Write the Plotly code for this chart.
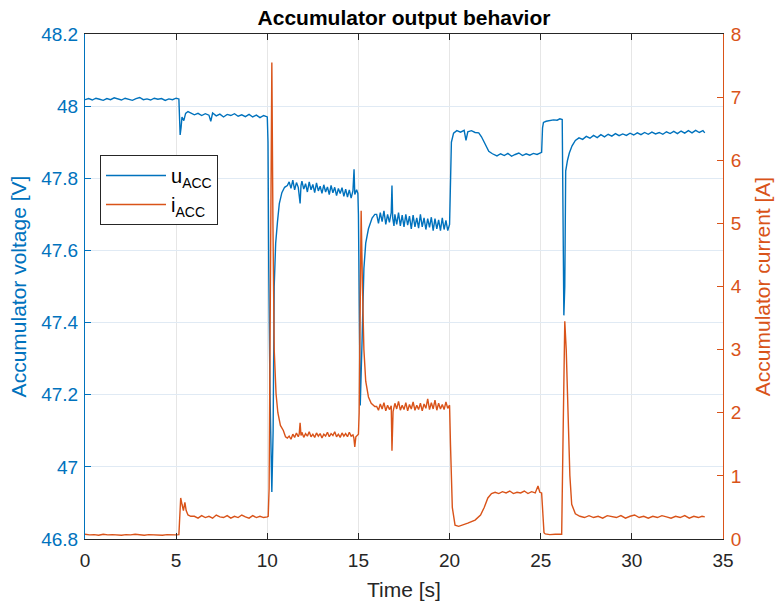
import plotly.graph_objects as go

# ---- data ----
t_u = [0, 0.2, 0.4, 0.6, 0.8, 1.0, 1.2, 1.4, 1.6, 1.8, 2.0, 2.2, 2.4, 2.6, 2.8, 3.0, 3.2, 3.4, 3.6, 3.8, 4.0,
       4.2, 4.4, 4.6, 4.8, 5.0, 5.15,
       5.18, 5.22, 5.27, 5.32, 5.42, 5.52, 5.65,
       5.8, 6.0, 6.2, 6.4, 6.6, 6.8, 6.9, 7.0, 7.2, 7.4, 7.6, 7.8, 8.0, 8.2, 8.4, 8.6, 8.8, 9.0, 9.2, 9.4, 9.6,
       9.8, 10.0,
       10.04, 10.08, 10.15, 10.25, 10.32, 10.38, 10.46, 10.56, 10.66, 10.8, 10.95,
       11.1, 11.2, 11.3, 11.4, 11.5, 11.6, 11.7, 11.8, 11.85, 11.9, 12.0, 12.1, 12.2, 12.3, 12.4, 12.5, 12.6, 12.7,
       12.8, 12.9, 13.0, 13.1, 13.2, 13.3, 13.4, 13.5, 13.6, 13.7, 13.8, 13.9, 14.0, 14.1, 14.2, 14.3, 14.4, 14.5,
       14.6, 14.7, 14.76, 14.8, 14.9, 14.97,
       15.0, 15.05, 15.1, 15.2, 15.3, 15.4, 15.55, 15.75, 15.9,
       16.0, 16.1, 16.2, 16.3, 16.4, 16.5, 16.6, 16.7, 16.8, 16.84, 16.88, 16.95, 17.0, 17.1, 17.2, 17.3, 17.4,
       17.5, 17.6, 17.7, 17.8, 17.9, 18.0, 18.1, 18.2, 18.3, 18.4, 18.5, 18.6, 18.7, 18.8, 18.9, 19.0, 19.1, 19.2,
       19.3, 19.4, 19.5, 19.6, 19.7, 19.8, 19.9, 20.0,
       20.04, 20.1, 20.22, 20.4,
       20.6, 20.8, 20.9, 21.0, 21.2, 21.4, 21.6, 21.75, 21.95, 22.15, 22.35, 22.6, 22.8, 23.0, 23.2, 23.4, 23.6,
       23.8, 24.0, 24.2, 24.4, 24.6, 24.8, 25.05,
       25.1, 25.15, 25.3, 25.5, 25.7, 25.9, 26.05, 26.18, 26.22, 26.27, 26.32, 26.37, 26.47, 26.57, 26.72, 26.9,
       27.1, 27.3, 27.5, 27.7, 27.9, 28.1, 28.3, 28.5, 28.7, 28.9, 29.1, 29.3, 29.5, 29.7, 29.9, 30.1, 30.3, 30.5,
       30.7, 30.9, 31.1, 31.3, 31.5, 31.7, 31.9, 32.1, 32.3, 32.5, 32.7, 32.9, 33.1, 33.3, 33.5, 33.7, 33.9,
       34.0]
u_acc = [48.018, 48.021, 48.017, 48.022, 48.019, 48.016, 48.021, 48.018, 48.023, 48.019, 48.017, 48.022, 48.020,
         48.016, 48.021, 48.024, 48.018, 48.020, 48.017, 48.022, 48.019, 48.021, 48.016, 48.020, 48.018, 48.022,
         48.020,
         47.96, 47.92, 47.94, 47.97, 47.96, 47.98, 47.985,
         47.982, 47.976, 47.980, 47.974, 47.979, 47.975, 47.958, 47.981, 47.973, 47.978, 47.970, 47.977, 47.974,
         47.979, 47.972, 47.976, 47.971, 47.977, 47.970, 47.975, 47.968, 47.974, 47.970,
         47.90, 47.55, 47.20, 46.93, 47.10, 47.50, 47.62, 47.68, 47.73, 47.76, 47.775,
         47.78, 47.79, 47.772, 47.795, 47.768, 47.788, 47.775, 47.73, 47.78, 47.792, 47.77, 47.785, 47.762, 47.79,
         47.768, 47.783, 47.76, 47.787, 47.765, 47.778, 47.758, 47.782, 47.762, 47.776, 47.755, 47.78, 47.76,
         47.775, 47.752, 47.772, 47.758, 47.774, 47.75, 47.77, 47.748, 47.768, 47.745, 47.766, 47.825, 47.755,
         47.768, 47.758,
         47.70, 47.45, 47.17, 47.35, 47.55, 47.62, 47.66, 47.69, 47.70,
         47.70, 47.675, 47.705, 47.68, 47.71, 47.672, 47.70, 47.678, 47.705, 47.78, 47.69, 47.668, 47.70, 47.672,
         47.705, 47.668, 47.698, 47.665, 47.70, 47.67, 47.695, 47.66, 47.698, 47.665, 47.69, 47.662, 47.70,
         47.665, 47.69, 47.658, 47.688, 47.664, 47.692, 47.655, 47.688, 47.66, 47.685, 47.655, 47.69, 47.658,
         47.683, 47.655, 47.672,
         47.75, 47.90, 47.925, 47.932,
         47.928, 47.933, 47.905, 47.929, 47.932, 47.927, 47.926, 47.915, 47.895, 47.875, 47.868, 47.862, 47.868,
         47.863, 47.869, 47.861, 47.866, 47.870, 47.863, 47.868, 47.864, 47.869, 47.866, 47.872,
         47.94, 47.955, 47.958, 47.96, 47.962, 47.961, 47.965, 47.963, 47.60, 47.42, 47.50, 47.82, 47.85, 47.87,
         47.89, 47.905,
         47.912, 47.908, 47.916, 47.911, 47.919, 47.913, 47.921, 47.915, 47.922, 47.917, 47.924, 47.918, 47.923,
         47.919, 47.925, 47.920, 47.926, 47.921, 47.927, 47.922, 47.928, 47.923, 47.927, 47.922, 47.929, 47.924,
         47.930, 47.924, 47.931, 47.925, 47.932, 47.926, 47.933, 47.927, 47.932,
         47.926]

t_i = [0, 0.25, 0.5, 0.75, 1.0, 1.25, 1.5, 1.75, 2.0, 2.25, 2.5, 2.75, 3.0, 3.25, 3.5, 3.75, 4.0, 4.25, 4.5, 4.75,
       5.0, 5.15,
       5.2, 5.25, 5.32, 5.4, 5.48, 5.55, 5.65, 5.8,
       6.0, 6.2, 6.4, 6.6, 6.8, 7.0, 7.2, 7.4, 7.6, 7.8, 8.0, 8.2, 8.4, 8.6, 8.8, 9.0, 9.2, 9.4, 9.6, 9.8, 10.0, 10.05,
       10.1, 10.17, 10.25, 10.31, 10.38, 10.48, 10.58, 10.72, 10.88, 11.0,
       11.1, 11.2, 11.3, 11.4, 11.5, 11.6, 11.7, 11.75, 11.8, 11.85, 11.9, 12.0, 12.1, 12.2, 12.3, 12.4, 12.5, 12.6,
       12.7, 12.8, 12.9, 13.0, 13.1, 13.2, 13.3, 13.4, 13.5, 13.6, 13.7, 13.8, 13.9, 14.0, 14.1, 14.2, 14.3, 14.4,
       14.5, 14.6, 14.7, 14.75, 14.8, 14.86, 14.92, 15.0,
       15.04, 15.1, 15.15, 15.22, 15.3, 15.4, 15.55, 15.7, 15.9,
       16.0, 16.1, 16.2, 16.3, 16.4, 16.5, 16.6, 16.7, 16.8, 16.84, 16.9, 17.0, 17.1, 17.2, 17.3, 17.4, 17.5, 17.6,
       17.7, 17.8, 17.9, 18.0, 18.1, 18.2, 18.3, 18.4, 18.5, 18.6, 18.7, 18.8, 18.9, 19.0, 19.1, 19.2, 19.3, 19.4,
       19.5, 19.6, 19.7, 19.8, 19.9, 20.0,
       20.05, 20.15, 20.3, 20.5, 21.0, 21.4, 21.7, 21.9, 22.1, 22.3,
       22.5, 22.7, 22.9, 23.1, 23.3, 23.5, 23.7, 23.9, 24.1, 24.3, 24.5, 24.7, 24.85, 24.95, 25.05,
       25.1, 25.18, 25.25, 25.5, 25.8, 26.0, 26.15,
       26.22, 26.32, 26.4, 26.5, 26.6, 26.7, 26.9,
       27.15, 27.4, 27.65, 27.9, 28.15, 28.4, 28.65, 28.9, 29.15, 29.4, 29.65, 29.9, 30.15, 30.4, 30.65, 30.9,
       31.15, 31.4, 31.65, 31.9, 32.15, 32.4, 32.65, 32.9, 33.15, 33.4, 33.65, 33.85, 34.0]
i_acc = [0.075, 0.065, 0.07, 0.06, 0.075, 0.065, 0.07, 0.065, 0.06, 0.07, 0.065, 0.075, 0.065, 0.06, 0.07, 0.065,
         0.055, 0.06, 0.07, 0.065, 0.065, 0.07,
         0.30, 0.65, 0.55, 0.45, 0.58, 0.45, 0.38, 0.36,
         0.36, 0.33, 0.37, 0.34, 0.36, 0.33, 0.38, 0.35, 0.34, 0.37, 0.33, 0.36, 0.34, 0.38, 0.35, 0.33, 0.37, 0.34,
         0.36, 0.34, 0.35, 0.36,
         0.8, 4.0, 7.55, 5.0, 3.0, 2.3, 2.0, 1.8, 1.72, 1.62,
         1.60, 1.63, 1.58, 1.66, 1.61, 1.68, 1.62, 1.66, 1.84, 1.64, 1.69, 1.61, 1.67, 1.63, 1.70, 1.62, 1.66, 1.61,
         1.68, 1.63, 1.67, 1.60, 1.66, 1.63, 1.69, 1.62, 1.67, 1.64, 1.70, 1.62, 1.66, 1.61, 1.68, 1.63, 1.67, 1.62,
         1.69, 1.63, 1.65, 1.60, 1.46, 1.62, 1.64, 1.66,
         2.0, 4.5, 5.2, 4.0, 3.0, 2.5, 2.25, 2.15, 2.1,
         2.10, 2.04, 2.14, 2.06, 2.16, 2.03, 2.12, 2.05, 2.11, 1.40, 2.02, 2.15, 2.06, 2.18, 2.04, 2.12, 2.05, 2.16,
         2.03, 2.13, 2.06, 2.17, 2.04, 2.12, 2.05, 2.15, 2.03, 2.14, 2.07, 2.22, 2.05, 2.16, 2.06, 2.20, 2.04, 2.15,
         2.06, 2.13, 2.05, 2.17, 2.07, 2.12,
         1.5, 0.5, 0.22, 0.2, 0.25, 0.3, 0.38, 0.5, 0.65, 0.72,
         0.74, 0.72, 0.75, 0.73, 0.76, 0.72, 0.74, 0.73, 0.76, 0.72, 0.75, 0.73, 0.84, 0.74, 0.73,
         0.4, 0.1, 0.08, 0.07, 0.075, 0.07, 0.075,
         1.5, 3.45, 3.0, 2.0, 1.0, 0.55, 0.40,
         0.36, 0.34, 0.37, 0.34, 0.36, 0.33, 0.37, 0.35, 0.34, 0.37, 0.33, 0.36, 0.38, 0.34, 0.36, 0.33, 0.36, 0.34,
         0.37, 0.35, 0.33, 0.36, 0.34, 0.37, 0.33, 0.36, 0.34, 0.36, 0.35]

x_ticks = [0, 5, 10, 15, 20, 25, 30, 35]
u_ticks = [46.8, 47.0, 47.2, 47.4, 47.6, 47.8, 48.0, 48.2]
u_tick_labels = ["46.8", "47", "47.2", "47.4", "47.6", "47.8", "48", "48.2"]
i_ticks = [0, 1, 2, 3, 4, 5, 6, 7, 8]

BLUE = "#0072BD"
ORANGE = "#D95319"
DARK = "#262626"
FONT = "Liberation Sans, Arial, sans-serif"

L, R, T, B = 85, 53, 34, 66
W, H = 776, 605
PW, PH = W - L - R, H - T - B

fig = go.Figure()
fig.add_trace(go.Scatter(x=t_u, y=u_acc, mode="lines", name="u<sub>ACC</sub>",
                         line=dict(color=BLUE, width=1.4), yaxis="y"))
fig.add_trace(go.Scatter(x=t_i, y=i_acc, mode="lines", name="i<sub>ACC</sub>",
                         line=dict(color=ORANGE, width=1.4), yaxis="y2"))

fig.update_layout(
    width=W, height=H,
    margin=dict(l=L, r=R, t=T, b=B, autoexpand=False),
    paper_bgcolor="white", plot_bgcolor="white",
    font=dict(family=FONT, size=19, color=DARK),
    title=dict(text="<b>Accumulator output behavior</b>", x=(L + PW / 2) / W, xanchor="center",
               y=1 - 18 / H, yanchor="middle", font=dict(size=21, color="black"), automargin=False),
    xaxis=dict(range=[0, 35], tickvals=x_ticks, showline=True, linecolor=DARK, linewidth=1,
               mirror="ticks", ticks="inside", ticklen=6, tickcolor=DARK,
               showgrid=True, gridcolor="#e6e6e6", zeroline=False, automargin=False,
               ticklabelstandoff=4,
               tickfont=dict(size=19, color=DARK),
               title=dict(text="Time [s]", font=dict(size=21, color=DARK), standoff=12)),
    yaxis=dict(range=[46.8, 48.2], tickvals=u_ticks, ticktext=u_tick_labels, showline=True,
               linecolor=BLUE, linewidth=1, ticks="inside", ticklen=6, tickcolor=BLUE,
               showgrid=True, gridcolor="#e0eaf4", zeroline=False, automargin=False,
               ticklabelstandoff=2,
               tickfont=dict(size=19, color=BLUE),
               title=dict(text="Accumulator voltage [V]", font=dict(size=21, color=BLUE), standoff=8)),
    yaxis2=dict(range=[0, 8], tickvals=i_ticks, overlaying="y", side="right", showline=True,
                linecolor=ORANGE, linewidth=1, ticks="inside", ticklen=6, tickcolor=ORANGE,
                showgrid=False, zeroline=False, automargin=False,
                ticklabelstandoff=3,
                tickfont=dict(size=19, color=ORANGE),
                title=dict(text="Accumulator current [A]", font=dict(size=21, color=ORANGE), standoff=14)),
    legend=dict(x=(100 - L) / PW, y=(H - B - 155) / PH, xanchor="left", yanchor="top",
                bgcolor="white", bordercolor=DARK, borderwidth=1,
                font=dict(size=20, color="black"), itemwidth=60, tracegroupgap=0),
    showlegend=True,
    hovermode=False,
)

fig.write_html("out.html", config={"displayModeBar": False},
               post_script="document.body.style.margin='0';")
